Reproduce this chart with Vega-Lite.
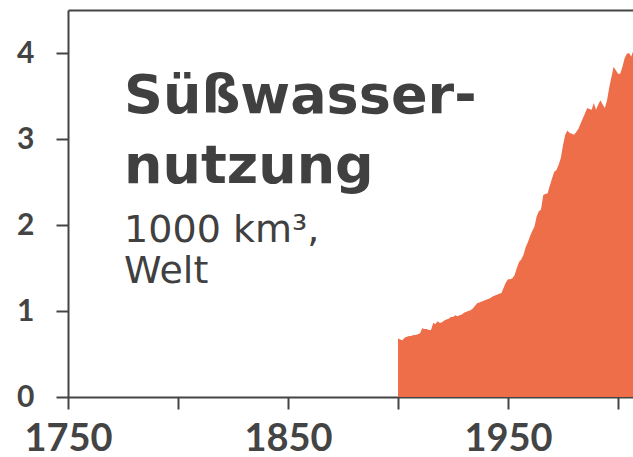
{
  "$schema": "https://vega.github.io/schema/vega-lite/v6.json",
  "width": 565,
  "height": 387,
  "autosize": {"type": "none"},
  "padding": {"left": 68, "top": 10, "right": 0, "bottom": 60},
  "background": "white",
  "config": {
    "view": {"stroke": null},
    "axis": {
      "domainColor": "#444444",
      "domainWidth": 2,
      "tickColor": "#444444",
      "tickWidth": 2,
      "tickSize": 12,
      "labelColor": "#444444",
      "labelFont": "Lato",
      "labelFontWeight": "bold",
      "grid": false,
      "title": null
    },
    "axisY": {"labelFontSize": 30, "labelPadding": 22},
    "axisX": {"labelFontSize": 38, "labelPadding": 11, "labelFlush": false, "labelOverlap": false}
  },
  "datasets": {
    "water": [
      {"year": 1900, "value": 0.68}, {"year": 1901, "value": 0.67}, {"year": 1902, "value": 0.66},
      {"year": 1903, "value": 0.69}, {"year": 1904, "value": 0.70}, {"year": 1905, "value": 0.71},
      {"year": 1906, "value": 0.71}, {"year": 1907, "value": 0.72}, {"year": 1908, "value": 0.72},
      {"year": 1909, "value": 0.73}, {"year": 1910, "value": 0.74}, {"year": 1911, "value": 0.80},
      {"year": 1912, "value": 0.79}, {"year": 1913, "value": 0.79}, {"year": 1914, "value": 0.78},
      {"year": 1915, "value": 0.78}, {"year": 1916, "value": 0.86}, {"year": 1917, "value": 0.85},
      {"year": 1918, "value": 0.88}, {"year": 1919, "value": 0.86}, {"year": 1920, "value": 0.87},
      {"year": 1921, "value": 0.89}, {"year": 1922, "value": 0.90}, {"year": 1923, "value": 0.91},
      {"year": 1924, "value": 0.93}, {"year": 1925, "value": 0.93}, {"year": 1926, "value": 0.95},
      {"year": 1927, "value": 0.94}, {"year": 1928, "value": 0.95}, {"year": 1929, "value": 0.96},
      {"year": 1930, "value": 0.98}, {"year": 1931, "value": 0.99}, {"year": 1932, "value": 1.00},
      {"year": 1933, "value": 1.01}, {"year": 1934, "value": 1.03}, {"year": 1935, "value": 1.06},
      {"year": 1936, "value": 1.09}, {"year": 1937, "value": 1.10}, {"year": 1938, "value": 1.11},
      {"year": 1939, "value": 1.12}, {"year": 1940, "value": 1.13}, {"year": 1941, "value": 1.14},
      {"year": 1942, "value": 1.15}, {"year": 1943, "value": 1.17}, {"year": 1944, "value": 1.18},
      {"year": 1945, "value": 1.19}, {"year": 1946, "value": 1.20}, {"year": 1947, "value": 1.21},
      {"year": 1948, "value": 1.27}, {"year": 1949, "value": 1.33}, {"year": 1950, "value": 1.37},
      {"year": 1951, "value": 1.37}, {"year": 1952, "value": 1.38}, {"year": 1953, "value": 1.42},
      {"year": 1954, "value": 1.50}, {"year": 1955, "value": 1.57}, {"year": 1956, "value": 1.60},
      {"year": 1957, "value": 1.65}, {"year": 1958, "value": 1.74}, {"year": 1959, "value": 1.80},
      {"year": 1960, "value": 1.87}, {"year": 1961, "value": 1.93}, {"year": 1962, "value": 1.98},
      {"year": 1963, "value": 2.10}, {"year": 1964, "value": 2.16}, {"year": 1965, "value": 2.18},
      {"year": 1966, "value": 2.35}, {"year": 1967, "value": 2.36}, {"year": 1968, "value": 2.37},
      {"year": 1969, "value": 2.46}, {"year": 1970, "value": 2.54}, {"year": 1971, "value": 2.62},
      {"year": 1972, "value": 2.64}, {"year": 1973, "value": 2.70}, {"year": 1974, "value": 2.78},
      {"year": 1975, "value": 2.93}, {"year": 1976, "value": 3.05}, {"year": 1977, "value": 3.10},
      {"year": 1978, "value": 3.07}, {"year": 1979, "value": 3.06}, {"year": 1980, "value": 3.05},
      {"year": 1981, "value": 3.08}, {"year": 1982, "value": 3.12}, {"year": 1983, "value": 3.18},
      {"year": 1984, "value": 3.24}, {"year": 1985, "value": 3.30}, {"year": 1986, "value": 3.36},
      {"year": 1987, "value": 3.35}, {"year": 1988, "value": 3.34}, {"year": 1989, "value": 3.42},
      {"year": 1990, "value": 3.34}, {"year": 1991, "value": 3.40}, {"year": 1992, "value": 3.45},
      {"year": 1993, "value": 3.40}, {"year": 1994, "value": 3.36}, {"year": 1995, "value": 3.45},
      {"year": 1996, "value": 3.60}, {"year": 1997, "value": 3.72}, {"year": 1998, "value": 3.84},
      {"year": 1999, "value": 3.80}, {"year": 2000, "value": 3.76}, {"year": 2001, "value": 3.76},
      {"year": 2002, "value": 3.84}, {"year": 2003, "value": 3.94}, {"year": 2004, "value": 3.99},
      {"year": 2005, "value": 4.00}, {"year": 2006, "value": 3.96}, {"year": 2007, "value": 4.03},
      {"year": 2008, "value": 4.05}, {"year": 2009, "value": 4.06}, {"year": 2010, "value": 4.08}
    ],
    "titles": [
      {"year": 1775.5, "value": 3.30, "label": "Süßwasser-"},
      {"year": 1775.5, "value": 2.49, "label": "nutzung"}
    ],
    "subs": [
      {"year": 1775.5, "value": 1.80, "label": "1000 km³,"},
      {"year": 1775.5, "value": 1.33, "label": "Welt"}
    ]
  },
  "layer": [
    {
      "data": {"name": "water"},
      "mark": {"type": "area", "color": "#ee6e4a", "clip": true},
      "encoding": {
        "x": {
          "field": "year", "type": "quantitative",
          "scale": {"domain": [1750, 2006.8], "nice": false, "zero": false},
          "axis": {"orient": "bottom", "values": [1750, 1800, 1850, 1900, 1950, 2000],
                   "labelExpr": "datum.value % 100 == 50 ? datum.label : ''", "format": "d"}
        },
        "y": {"field": "value", "type": "quantitative", "scale": {"domain": [0, 4.5], "nice": false},
              "axis": {"values": [0, 1, 2, 3, 4], "format": "d"}}
      }
    },
    {
      "data": {"name": "titles"},
      "mark": {"type": "text", "font": "DejaVu Sans", "fontWeight": "bold", "fontSize": 54,
               "align": "left", "baseline": "alphabetic", "color": "#404040"},
      "encoding": {
        "x": {"field": "year", "type": "quantitative",
              "axis": {"orient": "top", "domain": true, "ticks": false, "labels": false}},
        "y": {"field": "value", "type": "quantitative"},
        "text": {"field": "label"}
      }
    },
    {
      "data": {"name": "subs"},
      "mark": {"type": "text", "font": "DejaVu Sans", "fontWeight": "normal", "fontSize": 38,
               "align": "left", "baseline": "alphabetic", "color": "#404040"},
      "encoding": {
        "x": {"field": "year", "type": "quantitative", "axis": null},
        "y": {"field": "value", "type": "quantitative"},
        "text": {"field": "label"}
      }
    }
  ],
  "resolve": {"axis": {"x": "independent"}}
}
